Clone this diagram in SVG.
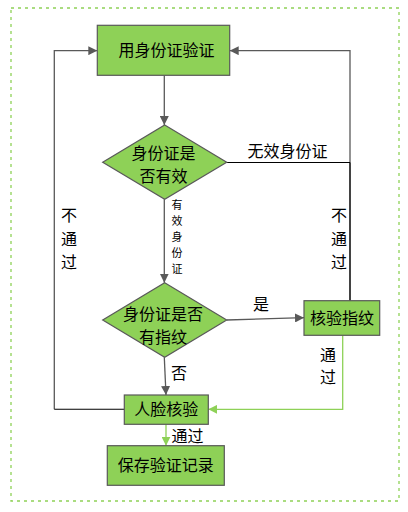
<svg xmlns="http://www.w3.org/2000/svg" width="408" height="512" viewBox="0 0 408 512">
<defs>
<marker id="ag" viewBox="0 0 10 10" refX="10" refY="5" markerWidth="9" markerHeight="9" markerUnits="userSpaceOnUse" orient="auto"><path d="M0,0 L10,5 L0,10 Z" fill="#595959"/></marker>
<marker id="agr" viewBox="0 0 10 10" refX="10" refY="5" markerWidth="9" markerHeight="9" markerUnits="userSpaceOnUse" orient="auto"><path d="M0,0 L10,5 L0,10 Z" fill="#8ED157"/></marker>
</defs>
<style>
.n{fill:#8ED157;stroke:#595959;stroke-width:1.2}
.t{font-family:"Liberation Sans","Noto Sans CJK SC",sans-serif;font-size:16px;fill:#000;text-anchor:middle;dominant-baseline:central}
.s{font-size:11px}
.c{fill:none;stroke:#595959;stroke-width:1.3}
.k{fill:none;stroke:#000;stroke-width:1.1}
.g{fill:none;stroke:#8ED157;stroke-width:1.3}
</style>
<rect x="11" y="8" width="388" height="493" fill="none" stroke="#8ED157" stroke-width="1.3" stroke-dasharray="3,4"/>
<g id="connectors">
<path class="c" d="M164.3,75.3 V125" marker-end="url(#ag)"/>
<path class="c" d="M54.3,409.3 V50.7 H97.3" marker-end="url(#ag)"/>
<path class="k" d="M124.3,409.3 H54.3"/>
<path class="c" d="M350,300.7 V50.7 H229.7" marker-end="url(#ag)"/>
<path class="k" d="M350,300.7 V162.5"/>
<path class="k" d="M226.7,162.5 H350"/>
<path class="c" d="M164.3,199.3 V282.7" marker-end="url(#ag)"/>
<path class="c" d="M226.7,320 L304,317.7" marker-end="url(#ag)"/>
<path class="c" d="M164.3,357.3 L166,395" marker-end="url(#ag)"/>
<path class="g" d="M342.7,335.3 V409.3 H208.3" marker-end="url(#agr)"/>
<path class="g" d="M166,424.3 V445.7" marker-end="url(#agr)"/>
<text class="t" x="287.5" y="151">无效身份证</text>
<text class="t s" x="177"><tspan x="177" y="205">有</tspan><tspan x="177" y="221">效</tspan><tspan x="177" y="237">身</tspan><tspan x="177" y="253">份</tspan><tspan x="177" y="269">证</tspan></text>
<text class="t" x="69"><tspan x="69" y="215">不</tspan><tspan x="69" y="238.5">通</tspan><tspan x="69" y="262">过</tspan></text>
<text class="t" x="339"><tspan x="339" y="215">不</tspan><tspan x="339" y="238.5">通</tspan><tspan x="339" y="262">过</tspan></text>
<text class="t" x="261" y="304">是</text>
<text class="t" x="179" y="373">否</text>
<text class="t" x="328"><tspan x="328" y="355">通</tspan><tspan x="328" y="377">过</tspan></text>
<text class="t" x="187.5" y="436">通过</text>
</g>
<g id="n1"><rect class="n" x="97.3" y="25.3" width="132.4" height="50"/><text class="t" x="166.5" y="50.5">用身份证验证</text></g>
<g id="n2"><path class="n" d="M164.7,125 L226.7,162.3 L164.7,199.3 L102.7,162.3 Z"/><text class="t" x="163.5" y="153">身份证是</text><text class="t" x="163.5" y="176.5">否有效</text></g>
<g id="n3"><path class="n" d="M164.7,282.7 L226.7,320 L164.7,357.3 L102.7,320 Z"/><text class="t" x="163" y="314.5">身份证是否</text><text class="t" x="163" y="337">有指纹</text></g>
<g id="n4"><rect class="n" x="304" y="300.7" width="75.7" height="34.6"/><text class="t" x="342" y="318">核验指纹</text></g>
<g id="n5"><rect class="n" x="124.3" y="395" width="84" height="29.3"/><text class="t" x="166.3" y="409.5">人脸核验</text></g>
<g id="n6"><rect class="n" x="107.3" y="445.7" width="117" height="39.6"/><text class="t" x="165.8" y="465.5">保存验证记录</text></g>
</svg>
